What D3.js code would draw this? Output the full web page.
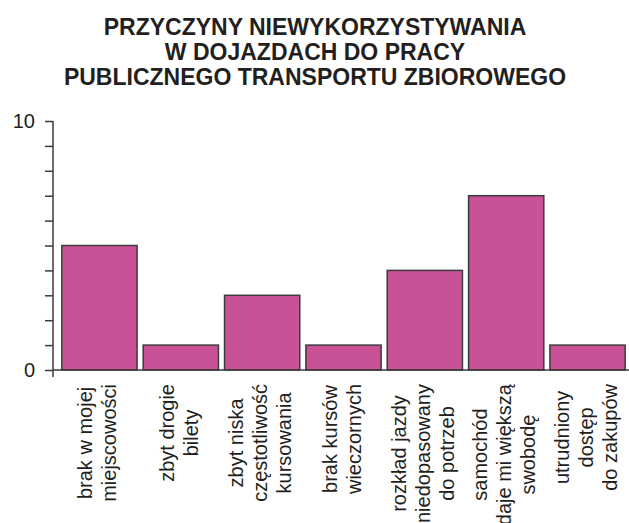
<!DOCTYPE html>
<html>
<head>
<meta charset="utf-8">
<script src="https://cdn.jsdelivr.net/npm/d3@7"></script>
<style>
  html, body { margin: 0; padding: 0; background: #fff; }
  svg { display: block; }
  text { font-family: "Liberation Sans", Arial, Helvetica, sans-serif; fill: #231f20; }
</style>
</head>
<body>
<svg id="chart" width="629" height="523"></svg>
<script>
const titleLines = ["PRZYCZYNY NIEWYKORZYSTYWANIA", "W DOJAZDACH DO PRACY", "PUBLICZNEGO TRANSPORTU ZBIOROWEGO"];
const categories = [
  ["brak w mojej", "miejscowości"],
  ["zbyt drogie", "bilety"],
  ["zbyt niska", "częstotliwość", "kursowania"],
  ["brak kursów", "wieczornych"],
  ["rozkład jazdy", "niedopasowany", "do potrzeb"],
  ["samochód", "daje mi większą", "swobodę"],
  ["utrudniony", "dostęp", "do zakupów"]
];
const values = [5, 1, 3, 1, 4, 7, 1];
const yTickValues = [0,1,2,3,4,5,6,7,8,9,10];
const yTickLabels = {0: "0", 10: "10"};

const svg = d3.select("#chart");
const W = 629;
const plot = {left: 53, right: 628, top: 121, bottom: 370};

// title
svg.append("g").selectAll("text").data(titleLines).join("text")
  .attr("x", 315).attr("y", (d, i) => 35 + i * 25)
  .attr("text-anchor", "middle")
  .style("font-size", "23px").style("font-weight", "bold")
  .text(d => d);

const x = d3.scaleBand().domain(d3.range(categories.length))
  .range([59, 628]).paddingInner(0.075).paddingOuter(0.035);
const y = d3.scaleLinear().domain([0, 10]).range([plot.bottom, plot.top]);

// bars
svg.append("g").selectAll("rect").data(values).join("rect")
  .attr("x", (d, i) => x(i))
  .attr("y", d => y(d))
  .attr("width", x.bandwidth())
  .attr("height", d => y(0) - y(d))
  .attr("fill", "#c95296")
  .attr("stroke", "#3d3a3b")
  .attr("stroke-width", 1.5);

// y axis
const yAxis = d3.axisLeft(y).tickValues(yTickValues).tickSize(8).tickPadding(10)
  .tickFormat(d => yTickLabels[d] || "");
const gy = svg.append("g").attr("transform", `translate(${plot.left},0)`).call(yAxis);
gy.select(".domain").remove();
gy.selectAll(".tick line").attr("stroke", "#3d3a3b").attr("stroke-width", 1.5);
gy.selectAll(".tick text").style("font-size", "20px").style("font-family", "Liberation Sans, Arial, sans-serif").attr("fill", "#231f20");
gy.append("line").attr("x1", 0).attr("x2", 0).attr("y1", plot.top).attr("y2", plot.bottom + 7)
  .attr("stroke", "#3d3a3b").attr("stroke-width", 1.5);

// x baseline
svg.append("line").attr("x1", plot.left).attr("x2", W).attr("y1", y(0)).attr("y2", y(0))
  .attr("stroke", "#3d3a3b").attr("stroke-width", 1.5);

// category labels (rotated)
const fs = 20, lh = 24, topY = 384;
categories.forEach((lines, i) => {
  const cx = x(i) + x.bandwidth() / 2 - 2;
  const g = svg.append("g");
  const texts = g.selectAll("text").data(lines).join("text")
    .style("font-size", fs + "px")
    .attr("text-anchor", "middle")
    .text(d => d);
  let maxLen = 0;
  texts.each(function() { maxLen = Math.max(maxLen, this.getComputedTextLength()); });
  const cy = topY + maxLen / 2;
  const n = lines.length;
  texts.attr("transform", (d, j) => {
    const bx = cx + (j - (n - 1) / 2) * lh + 0.35 * fs;
    return `translate(${bx},${cy}) rotate(-90)`;
  });
});
</script>
</body>
</html>
